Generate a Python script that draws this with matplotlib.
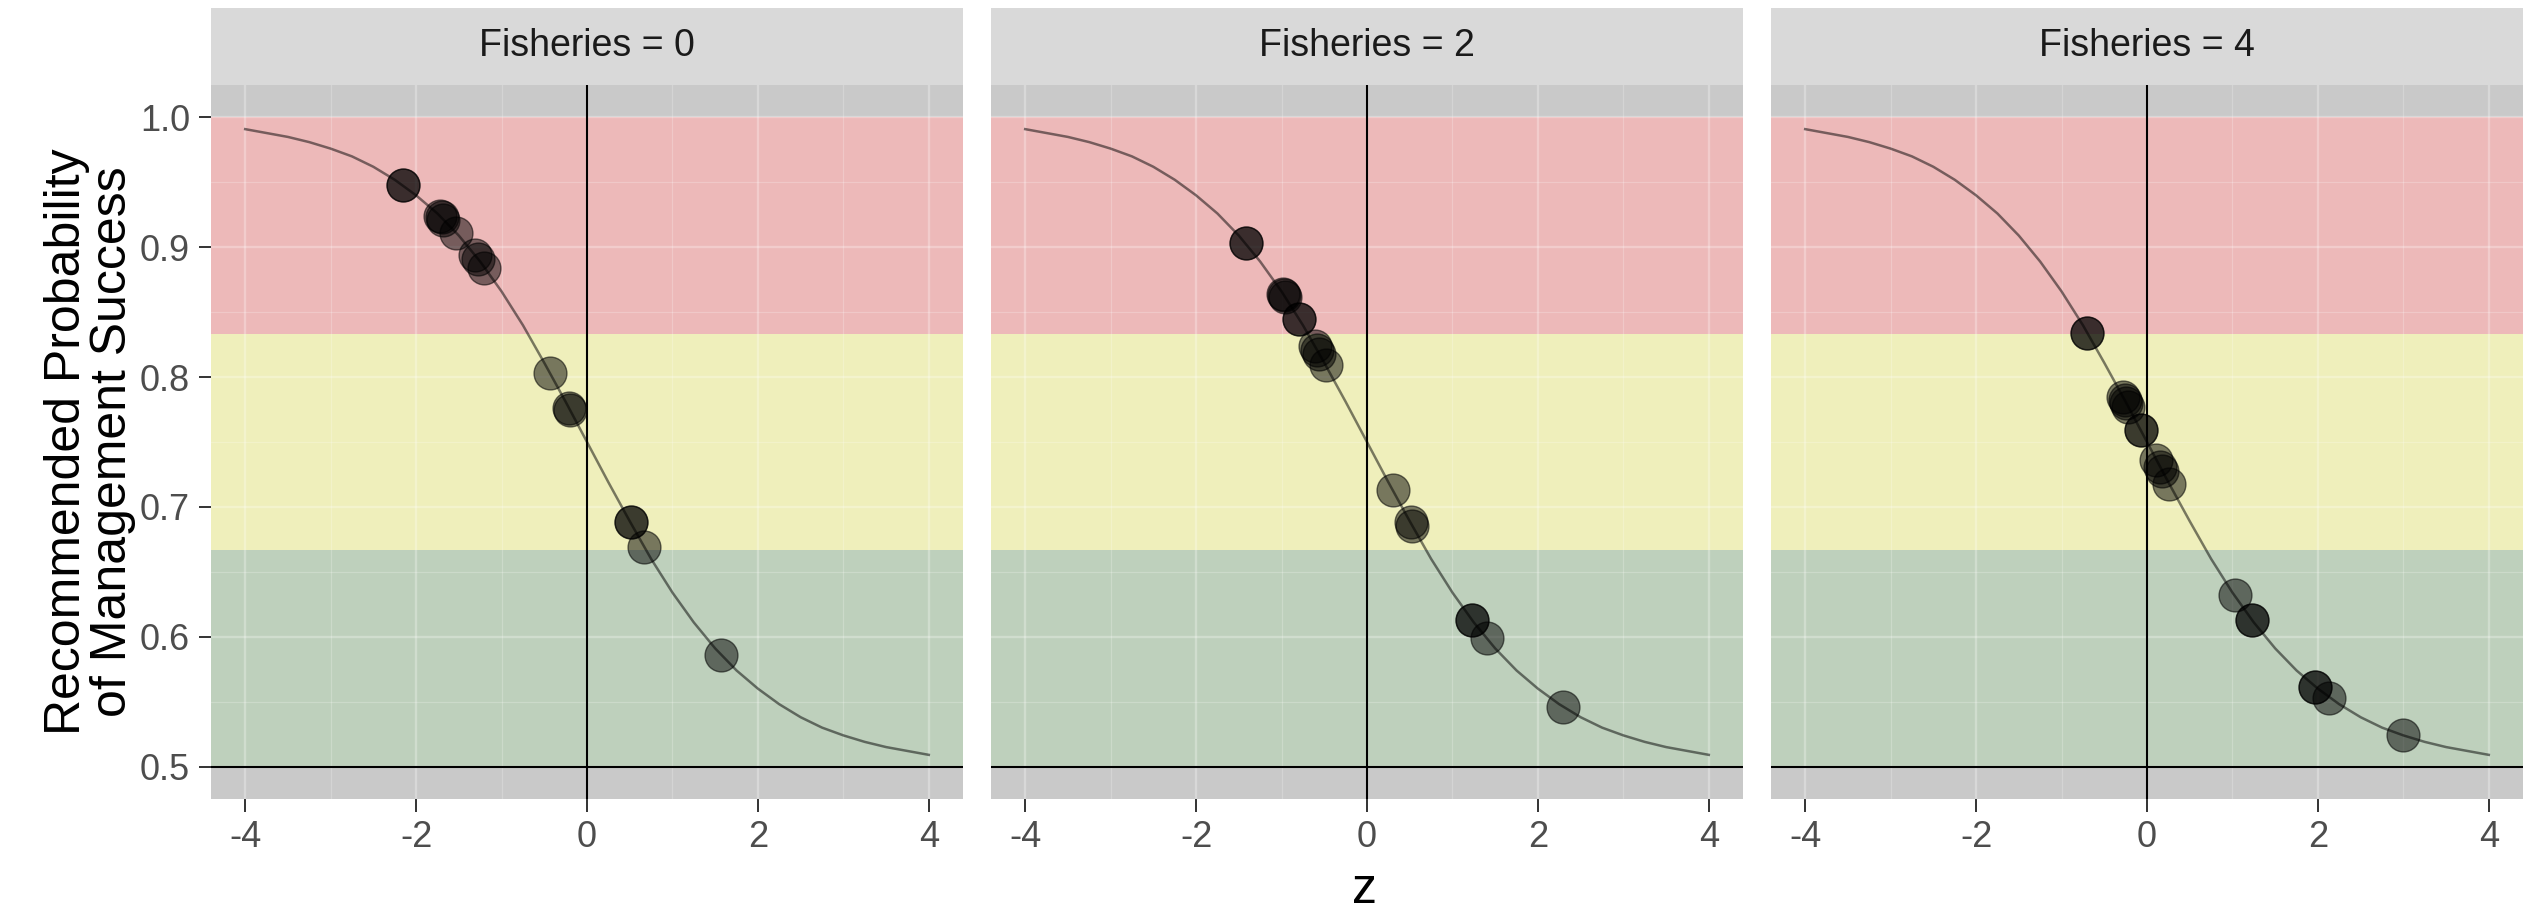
import matplotlib
matplotlib.use("Agg")
import matplotlib.pyplot as plt
from matplotlib.ticker import MultipleLocator, FormatStrFormatter

plt.rcParams['font.family'] = ['Liberation Sans', 'DejaVu Sans']
plt.rcParams['axes.unicode_minus'] = False

# ---------------- data ----------------
facet_labels = ["Fisheries = 0", "Fisheries = 2", "Fisheries = 4"]

curve_z = [-4.0, -3.75, -3.5, -3.25, -3.0, -2.75, -2.5, -2.25, -2.0, -1.75, -1.5,
           -1.25, -1.0, -0.75, -0.5, -0.25, 0.0, 0.25, 0.5, 0.75, 1.0, 1.25, 1.5,
           1.75, 2.0, 2.25, 2.5, 2.75, 3.0, 3.25, 3.5, 3.75, 4.0]
curve_y = [0.991, 0.988, 0.985, 0.981, 0.976, 0.970, 0.962, 0.952, 0.940, 0.926, 0.909,
           0.889, 0.866, 0.840, 0.811, 0.781, 0.750, 0.719, 0.689, 0.660, 0.634, 0.611, 0.591,
           0.574, 0.560, 0.548, 0.538, 0.530, 0.524, 0.519, 0.515, 0.512, 0.509]

f0_z = [-2.15, -2.15, -1.72, -1.70, -1.68, -1.53, -1.31, -1.27, -1.20,
        -0.43, -0.21, -0.20, 0.51, 0.51, 0.67, 1.57]
f0_y = [0.948, 0.948, 0.924, 0.923, 0.921, 0.911, 0.894, 0.891, 0.884,
        0.803, 0.776, 0.775, 0.688, 0.688, 0.669, 0.586]

f2_z = [-1.42, -1.42, -0.98, -0.97, -0.96, -0.80, -0.80, -0.61, -0.58, -0.56, -0.48,
        0.30, 0.51, 0.53, 1.23, 1.23, 1.40, 2.29]
f2_y = [0.903, 0.903, 0.864, 0.863, 0.862, 0.845, 0.845, 0.824, 0.821, 0.818, 0.809,
        0.713, 0.688, 0.685, 0.613, 0.613, 0.599, 0.546]

f4_z = [-0.70, -0.70, -0.28, -0.26, -0.24, -0.22, -0.07, -0.07, 0.11, 0.15, 0.18, 0.26,
        1.03, 1.23, 1.23, 1.97, 1.97, 2.13, 3.00]
f4_y = [0.834, 0.834, 0.785, 0.782, 0.780, 0.777, 0.759, 0.759, 0.736, 0.731, 0.728, 0.718,
        0.632, 0.613, 0.613, 0.561, 0.561, 0.553, 0.524]

points_z = [f0_z, f2_z, f4_z]
points_y = [f0_y, f2_y, f4_y]

band_edges = [0.5, 2/3, 5/6, 1.0]
band_colors = ["#BED0BC", "#EFEFBB", "#EDB9B9"]

x_ticks = [-4, -2, 0, 2, 4]
y_ticks = [0.5, 0.6, 0.7, 0.8, 0.9, 1.0]

# ---------------- layout ----------------
W, H = 2526, 914
fig = plt.figure(figsize=(W / 100, H / 100), dpi=100)
fig.patch.set_facecolor("white")

panel_lefts = [211, 991, 1771]
panel_w = 752
panel_top, panel_bot = 85, 799
strip_top = 8

tick_fs = 26
strip_fs = 27
title_fs = 36

for i in range(3):
    left = panel_lefts[i] / W
    bottom = 1 - panel_bot / H
    height = (panel_bot - panel_top) / H
    ax = fig.add_axes([left, bottom, panel_w / W, height])
    ax.set_facecolor("#C9C9C9")
    ax.set_xlim(-4.4, 4.4)
    ax.set_ylim(0.475, 1.025)

    for j in range(3):
        ax.axhspan(band_edges[j], band_edges[j + 1], color=band_colors[j], lw=0, zorder=0.1)

    ax.set_axisbelow(True)
    ax.xaxis.set_major_locator(MultipleLocator(2))
    ax.xaxis.set_minor_locator(MultipleLocator(1))
    ax.yaxis.set_major_locator(MultipleLocator(0.1))
    ax.yaxis.set_minor_locator(MultipleLocator(0.05))
    ax.grid(which="major", color="white", alpha=0.28, lw=1.7)
    ax.grid(which="minor", color="white", alpha=0.22, lw=0.9)
    ax.set_xticks(x_ticks)
    ax.set_yticks(y_ticks)
    ax.yaxis.set_major_formatter(FormatStrFormatter("%.1f"))

    ax.axvline(0, color="black", lw=1.5, zorder=2)
    ax.axhline(0.5, color="black", lw=1.5, zorder=2)

    ax.plot(curve_z, curve_y, color="black", alpha=0.5, lw=1.8, zorder=3)
    ax.scatter(points_z[i], points_y[i], s=560, facecolor=(0, 0, 0, 0.5),
               edgecolor=(0, 0, 0, 0.55), linewidth=1.0, zorder=4)

    for sp in ax.spines.values():
        sp.set_visible(False)
    ax.tick_params(which="major", length=9, width=1.4, color="#333333",
                   labelsize=tick_fs, labelcolor="#4D4D4D", pad=6)
    ax.tick_params(which="minor", length=0)
    if i > 0:
        ax.tick_params(axis="y", which="both", left=False, labelleft=False)

    # strip
    sax = fig.add_axes([left, 1 - panel_top / H, panel_w / W, (panel_top - strip_top) / H])
    sax.set_facecolor("#D9D9D9")
    sax.set_xticks([])
    sax.set_yticks([])
    for sp in sax.spines.values():
        sp.set_visible(False)
    sax.text(0.5, 0.5, facet_labels[i], ha="center", va="center",
             fontsize=strip_fs, color="#1A1A1A", transform=sax.transAxes)

fig.text(1365 / W, 1 - 890 / H, "z", ha="center", va="center", fontsize=title_fs, color="black")
fig.text(90 / W, 1 - 442 / H, "Recommended Probability\nof Management Success",
         ha="center", va="center", rotation=90, fontsize=title_fs, color="black",
         linespacing=1.0, multialignment="center")

fig.savefig("out.png", dpi=100)
